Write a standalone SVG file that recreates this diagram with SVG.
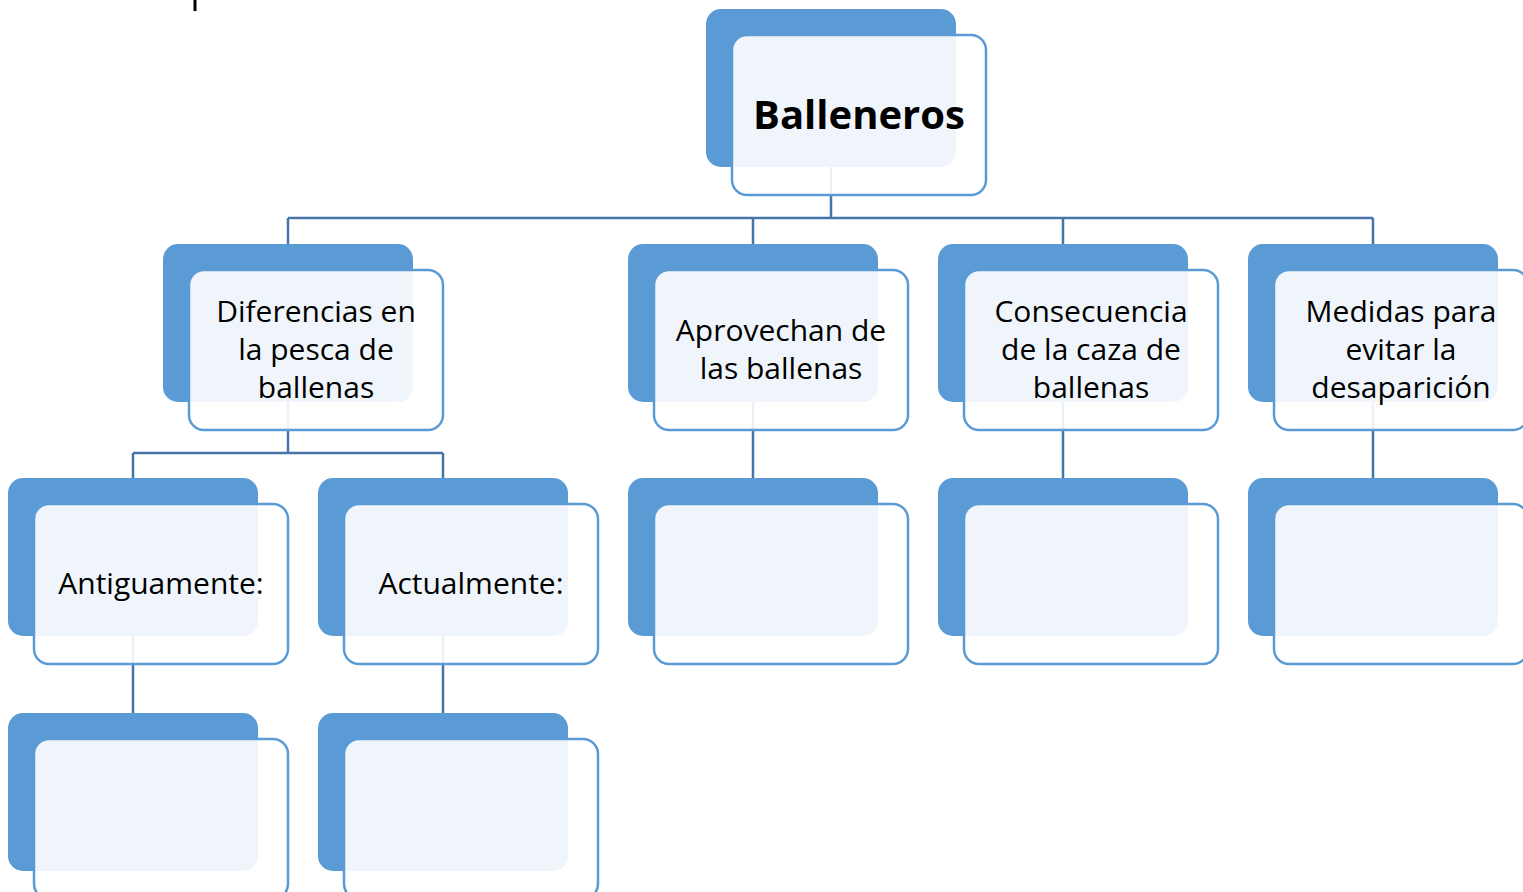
<svg xmlns="http://www.w3.org/2000/svg" width="1523" height="892" viewBox="0 0 1523 892">
<defs>
<style>
.back{fill:#5B9BD5;}
.front{fill:#ffffff;fill-opacity:0.9;stroke:#5B9BD5;stroke-width:2.5;}
.conn{stroke:#4675AA;stroke-width:2.5;fill:none;}
.t{font-family:"Open Sans","Liberation Sans",sans-serif;font-size:30px;fill:#000;text-anchor:middle;}
.title{font-family:"Open Sans","Liberation Sans",sans-serif;font-size:40px;font-weight:bold;fill:#000;text-anchor:middle;}
</style>
</defs>
<rect width="1523" height="892" fill="#fff"/>
<line x1="195" y1="0" x2="195" y2="11" stroke="#000" stroke-width="3"/>
<g id="connectors">
<path class="conn" d="M831 167 V218 M288 218 H1373 M288 218 V244 M753 218 V244 M1063 218 V244 M1373 218 V244"/>
<path class="conn" d="M288 402 V453 M133 453 H443 M133 453 V478 M443 453 V478"/>
<path class="conn" d="M133 636 V713 M443 636 V713"/>
<path class="conn" d="M753 402 V478 M1063 402 V478 M1373 402 V478"/>
</g>
<g id="root">
<rect class="back" x="706" y="9" width="250" height="158" rx="15"/>
<rect class="front" x="732" y="35" width="254" height="160" rx="15"/>
<text class="title" x="859" y="129">Balleneros</text>
</g>
<g id="diferencias">
<rect class="back" x="163" y="244" width="250" height="158" rx="15"/>
<rect class="front" x="189" y="270" width="254" height="160" rx="15"/>
<text class="t" x="316" y="322">Diferencias en</text>
<text class="t" x="316" y="360">la pesca de</text>
<text class="t" x="316" y="398">ballenas</text>
</g>
<g id="aprovechan">
<rect class="back" x="628" y="244" width="250" height="158" rx="15"/>
<rect class="front" x="654" y="270" width="254" height="160" rx="15"/>
<text class="t" x="781" y="341">Aprovechan de</text>
<text class="t" x="781" y="379">las ballenas</text>
</g>
<g id="consecuencia">
<rect class="back" x="938" y="244" width="250" height="158" rx="15"/>
<rect class="front" x="964" y="270" width="254" height="160" rx="15"/>
<text class="t" x="1091" y="322">Consecuencia</text>
<text class="t" x="1091" y="360">de la caza de</text>
<text class="t" x="1091" y="398">ballenas</text>
</g>
<g id="medidas">
<rect class="back" x="1248" y="244" width="250" height="158" rx="15"/>
<rect class="front" x="1274" y="270" width="254" height="160" rx="15"/>
<text class="t" x="1401" y="322">Medidas para</text>
<text class="t" x="1401" y="360">evitar la</text>
<text class="t" x="1401" y="398">desaparición</text>
</g>
<g id="antiguamente">
<rect class="back" x="8" y="478" width="250" height="158" rx="15"/>
<rect class="front" x="34" y="504" width="254" height="160" rx="15"/>
<text class="t" x="161" y="594">Antiguamente:</text>
</g>
<g id="actualmente">
<rect class="back" x="318" y="478" width="250" height="158" rx="15"/>
<rect class="front" x="344" y="504" width="254" height="160" rx="15"/>
<text class="t" x="471" y="594">Actualmente:</text>
</g>
<g id="aprovechan-detalle">
<rect class="back" x="628" y="478" width="250" height="158" rx="15"/>
<rect class="front" x="654" y="504" width="254" height="160" rx="15"/>
</g>
<g id="consecuencia-detalle">
<rect class="back" x="938" y="478" width="250" height="158" rx="15"/>
<rect class="front" x="964" y="504" width="254" height="160" rx="15"/>
</g>
<g id="medidas-detalle">
<rect class="back" x="1248" y="478" width="250" height="158" rx="15"/>
<rect class="front" x="1274" y="504" width="254" height="160" rx="15"/>
</g>
<g id="antiguamente-detalle">
<rect class="back" x="8" y="713" width="250" height="158" rx="15"/>
<rect class="front" x="34" y="739" width="254" height="160" rx="15"/>
</g>
<g id="actualmente-detalle">
<rect class="back" x="318" y="713" width="250" height="158" rx="15"/>
<rect class="front" x="344" y="739" width="254" height="160" rx="15"/>
</g>
</svg>
